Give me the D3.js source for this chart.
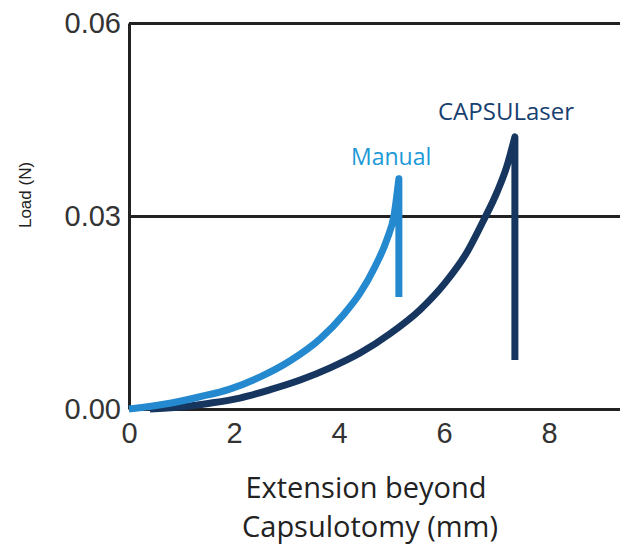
<!DOCTYPE html>
<html>
<head>
<meta charset="utf-8">
<script src="https://cdn.jsdelivr.net/npm/d3@7"></script>
<style>
  body { margin: 0; background: #fff; }
  .tick text { font-family: "Liberation Sans", Arial, sans-serif; fill: #333; }
</style>
</head>
<body>
<div id="chart"></div>
<script>
// values
var xTicks = [0, 2, 4, 6, 8];
var yTicks = [0, 0.03, 0.06];

var manualX = [0, 0.78, 1.35, 1.92, 2.50, 3.07, 3.64, 4.11, 4.40, 4.69, 4.91, 5.05, 5.14];
var manualY = [0, 0.0009, 0.0019, 0.0031, 0.0050, 0.0075, 0.0109, 0.0149, 0.0180, 0.0222, 0.0263, 0.0302, 0.0358];
var manualDrop = 0.0174;

var capsX = [0.40, 0.97, 1.54, 2.11, 2.69, 3.26, 3.83, 4.40, 4.97, 5.54, 6.02, 6.44, 6.74, 7.01, 7.20, 7.35];
var capsY = [0, 0.0003, 0.0009, 0.0017, 0.0030, 0.0045, 0.0064, 0.0087, 0.0117, 0.0154, 0.0196, 0.0244, 0.0291, 0.0337, 0.0378, 0.0423];
var capsDrop = 0.0076;

var W = 620, H = 544;
var mLeft = 129, mRight = 620, mTop = 23, mBottom = 409;

var svg = d3.select("#chart").append("svg").attr("width", W).attr("height", H);

var x = d3.scaleLinear().domain([0, 9.352]).range([mLeft, mRight]);
var y = d3.scaleLinear().domain([0, 0.06]).range([mBottom, mTop]);

// y axis, its gridlines make the top line, the 0.03 line and the base line
var yAxis = svg.append("g").attr("transform", "translate(" + mLeft + ",0)")
  .call(d3.axisLeft(y).tickValues(yTicks).tickFormat(d3.format(".2f"))
    .tickSizeInner(-(mRight - mLeft)).tickSizeOuter(0).tickPadding(8));
yAxis.selectAll("line").attr("stroke", "#222").attr("stroke-width", 3);
yAxis.select(".domain").attr("stroke", "#222").attr("stroke-width", 3);
yAxis.selectAll("text").style("font-size", "29px");

var xAxis = svg.append("g").attr("transform", "translate(0," + mBottom + ")")
  .call(d3.axisBottom(x).tickValues(xTicks).tickSize(0).tickPadding(13));
xAxis.select(".domain").remove();
xAxis.selectAll("text").style("font-size", "29px");

function series(xs, ys, drop) {
  var pts = xs.map(function (d, i) { return [x(d), y(ys[i])]; });
  var line = d3.line().curve(d3.curveMonotoneX);
  var last = xs[xs.length - 1];
  return line(pts) + "L" + x(last) + "," + y(drop);
}

svg.append("path").attr("d", series(capsX, capsY, capsDrop))
  .attr("fill", "none").attr("stroke", "#16365f").attr("stroke-width", 7)
  .attr("stroke-linejoin", "round");

svg.append("path").attr("d", series(manualX, manualY, manualDrop))
  .attr("fill", "none").attr("stroke", "#2489cf").attr("stroke-width", 7)
  .attr("stroke-linejoin", "round");

// series labels
svg.append("text").attr("x", 351).attr("y", 165).text("Manual")
  .attr("font-family", "Open Sans, sans-serif").attr("font-size", 23).attr("fill", "#1c9ad7");
svg.append("text").attr("x", 438).attr("y", 120).text("CAPSULaser")
  .attr("font-family", "Open Sans, sans-serif").attr("font-size", 24).attr("fill", "#173f70");

// axis titles
svg.append("text").attr("transform", "translate(31,195) rotate(-90)")
  .attr("text-anchor", "middle").text("Load (N)")
  .attr("font-family", "Liberation Sans, Arial, sans-serif").attr("font-size", 17).attr("fill", "#222");

var xt = svg.append("text").attr("text-anchor", "middle")
  .attr("font-family", "Open Sans, sans-serif").attr("font-size", 29).attr("fill", "#222");
xt.append("tspan").attr("x", 366).attr("y", 498).text("Extension beyond");
xt.append("tspan").attr("x", 370).attr("y", 537).text("Capsulotomy (mm)");
</script>
</body>
</html>
